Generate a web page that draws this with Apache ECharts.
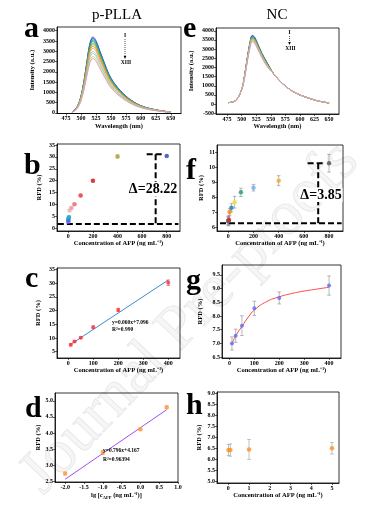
<!DOCTYPE html>
<html>
<head>
<meta charset="utf-8">
<script src="https://cdn.jsdelivr.net/npm/echarts@6/dist/echarts.min.js"></script>
<style>
html, body { margin: 0; padding: 0; background: #fff; }
#main { width: 375px; height: 507px; }
</style>
</head>
<body>
<div id="main"></div>
<script>
// ---- spectra (a: p-PLLA, e: NC), I .. XIII
const specNames = ['I', 'II', 'III', 'IV', 'V', 'VI', 'VII', 'VIII', 'IX', 'X', 'XI', 'XII', 'XIII'];
const waveA = [485, 490, 495, 500, 505, 510, 515, 520, 525, 530, 540, 550, 565, 580, 600, 625, 650];
const specA = [
  [40, 150, 370, 810, 1550, 2520, 3400, 3700, 3520, 3150, 2370, 1700, 1110, 700, 350, 150, 40],
  [40, 150, 370, 800, 1530, 2480, 3360, 3650, 3470, 3100, 2340, 1680, 1100, 690, 350, 150, 40],
  [40, 140, 360, 790, 1510, 2450, 3310, 3600, 3420, 3060, 2300, 1660, 1080, 680, 340, 140, 40],
  [40, 140, 350, 780, 1490, 2410, 3260, 3540, 3360, 3010, 2270, 1630, 1060, 670, 340, 140, 40],
  [30, 140, 350, 770, 1460, 2370, 3200, 3480, 3310, 2960, 2230, 1600, 1040, 660, 330, 140, 30],
  [30, 140, 340, 750, 1430, 2310, 3130, 3400, 3230, 2890, 2180, 1560, 1020, 650, 320, 140, 30],
  [30, 130, 330, 730, 1400, 2260, 3060, 3330, 3160, 2830, 2130, 1530, 1000, 630, 320, 130, 30],
  [30, 130, 330, 720, 1370, 2210, 2990, 3250, 3090, 2760, 2080, 1500, 980, 620, 310, 130, 30],
  [30, 130, 320, 690, 1320, 2140, 2900, 3150, 2990, 2680, 2020, 1450, 950, 600, 300, 130, 30],
  [30, 120, 300, 660, 1260, 2040, 2760, 3000, 2850, 2550, 1920, 1380, 900, 570, 290, 120, 30],
  [30, 120, 290, 640, 1220, 1970, 2670, 2900, 2760, 2470, 1860, 1330, 870, 550, 280, 120, 30],
  [30, 110, 280, 610, 1160, 1870, 2530, 2750, 2610, 2340, 1760, 1270, 830, 520, 260, 110, 30],
  [30, 110, 270, 580, 1110, 1800, 2440, 2650, 2520, 2250, 1700, 1220, 800, 500, 250, 110, 30]
];
const waveE = [477, 490, 500, 505, 510, 515, 518, 522, 527, 535, 545, 555, 570, 590, 610, 630, 650];
const specE = [
  [80, 200, 800, 1560, 2600, 3490, 3750, 3670, 3330, 2760, 2190, 1650, 1120, 650, 380, 180, 60],
  [80, 200, 800, 1550, 2580, 3460, 3720, 3640, 3310, 2740, 2170, 1650, 1120, 650, 380, 180, 60],
  [80, 200, 800, 1540, 2560, 3430, 3690, 3610, 3280, 2720, 2150, 1650, 1120, 650, 380, 180, 60],
  [80, 200, 800, 1530, 2540, 3410, 3660, 3580, 3250, 2690, 2140, 1650, 1120, 650, 380, 180, 60],
  [80, 200, 800, 1520, 2530, 3390, 3640, 3560, 3240, 2680, 2120, 1650, 1120, 650, 380, 180, 60],
  [80, 200, 800, 1500, 2510, 3360, 3610, 3530, 3210, 2660, 2110, 1650, 1120, 650, 380, 180, 60],
  [80, 200, 800, 1500, 2490, 3340, 3590, 3510, 3190, 2640, 2090, 1650, 1120, 650, 380, 180, 60],
  [80, 200, 800, 1490, 2480, 3320, 3570, 3490, 3170, 2630, 2080, 1650, 1120, 650, 380, 180, 60],
  [80, 200, 800, 1480, 2460, 3290, 3540, 3460, 3150, 2610, 2070, 1650, 1120, 650, 380, 180, 60],
  [80, 200, 800, 1460, 2440, 3270, 3510, 3430, 3120, 2580, 2050, 1650, 1120, 650, 380, 180, 60],
  [80, 200, 800, 1450, 2420, 3240, 3480, 3400, 3090, 2560, 2030, 1650, 1120, 650, 380, 180, 60],
  [80, 200, 800, 1440, 2400, 3210, 3450, 3370, 3070, 2540, 2010, 1650, 1120, 650, 380, 180, 60],
  [80, 200, 800, 1420, 2360, 3160, 3400, 3320, 3020, 2500, 1980, 1650, 1120, 650, 380, 180, 60]
];

// ---- RFD vs concentration (b: p-PLLA, f: NC)
const conc = [0.01, 0.1, 1, 5, 10, 25, 50, 100, 200, 400, 800];
const rfdB = [2.75, 3.4, 4.1, 4.8, 7.5, 8.5, 10.1, 13.8, 20.0, 30.2, 30.4];
const errB = [0.3, 0.3, 0.3, 0.3, 0.4, 0.4, 0.4, 0.5, 0.5, 0.6, 0.4];
const rfdF = [6.4, 6.42, 6.45, 6.5, 7.02, 7.31, 7.67, 8.33, 8.64, 9.11, 10.27];
const errF = [0.3, 0.25, 0.3, 0.25, 0.22, 0.27, 0.39, 0.28, 0.22, 0.33, 0.59];
const dashBLow = [[-85, 1.8], [895, 1.8]];
const dashBHigh = [[637, 31.1], [772, 31.1]];
const dashBVert = [[710, 31.1], [710, 1.8]];
const dashFLow = [[-66, 6.27], [900, 6.27]];
const dashFHigh = [[630, 10.27], [754, 10.27]];
const dashFVert = [[714, 10.27], [714, 6.27]];

// ---- c: linear range p-PLLA
const concC = [10, 25, 50, 100, 200, 400];
const rfdC = [7.5, 8.7, 10.1, 13.9, 20.2, 30.1];
const errC = [0.4, 0.3, 0.3, 0.5, 0.6, 1.0];
const fitCx = [10, 400];
const fitCy = [7.696, 31.096];

// ---- g: NC fit
const concG = [10, 25, 50, 100, 200, 400];
const rfdG = [7.0, 7.28, 7.65, 8.28, 8.66, 9.11];
const errG = [0.24, 0.24, 0.36, 0.26, 0.22, 0.35];
const fitGx = [10, 25, 50, 75, 100, 150, 200, 250, 300, 350, 400];
const fitGy = [6.98, 7.28, 7.62, 7.95, 8.22, 8.53, 8.70, 8.82, 8.91, 8.98, 9.05];

// ---- d: log range p-PLLA
const lgC = [-2, -1, 0, 0.7];
const rfdD = [2.75, 3.4, 4.12, 4.8];
const errD = [0.04, 0.06, 0.04, 0.04];
const fitDx = [-2, 0.7];
const fitDy = [2.575, 4.724];

// ---- h: NC low range
const concH = [0.01, 0.1, 1, 5];
const rfdH = [6.43, 6.43, 6.46, 6.51];
const errH = [0.25, 0.28, 0.45, 0.26];

// ---- tick labels
const ticksWave = [475, 500, 525, 550, 575, 600, 625, 650];
const ticksIntA = [0, 500, 1000, 1500, 2000, 2500, 3000, 3500, 4000];
const ticksIntE = [-500, 0, 500, 1000, 1500, 2000, 2500, 3000, 3500, 4000];
const ticksConc800 = [0, 200, 400, 600, 800];
const ticksConc400 = [0, 100, 200, 300, 400];
const ticksRfdB = [0, 5, 10, 15, 20, 25, 30, 35];
const ticksRfdF = [6, 7, 8, 9, 10, 11];
const ticksRfdC = [5, 10, 15, 20, 25, 30, 35];
const ticksRfdG = [6.5, 7.0, 7.5, 8.0, 8.5, 9.0, 9.5];
const ticksLg = [-2.0, -1.5, -1.0, -0.5, 0.0, 0.5, 1.0];
const ticksRfdD = [2.5, 3.0, 3.5, 4.0, 4.5, 5.0];
const ticksConcH = [0, 1, 2, 3, 4, 5];
const ticksRfdH = [5.0, 5.5, 6.0, 6.5, 7.0, 7.5, 8.0, 8.5, 9.0];

const FONT = '"Liberation Serif", "Times New Roman", serif';
const specColors = ['#3c3c9c', '#1f4fb4', '#1f8fd0', '#17a8b8', '#2a9d5c', '#7ab030', '#c8a82c',
  '#f08a1c', '#f5a05a', '#8fc0ec', '#9ad08a', '#c0d070', '#e88ac8'];
const colorsB = ['#7b68ee', '#4169e1', '#1e90ff', '#20b2aa', '#f7b6c2', '#f4a0a0', '#f07070',
  '#f03a3a', '#e01818', '#b5a030', '#3050c0'];
const colorsF = ['#20b070', '#404040', '#9467bd', '#d62728', '#ff7f0e', '#1f77b4', '#f0e030',
  '#20a070', '#6ab0f0', '#f5a623', '#505060'];

const plain = v => String(v);
const fixed1 = v => v.toFixed(1);
const nameStyle = { fontFamily: FONT, fontSize: 6.5, fontWeight: 'bold', color: '#000' };

function xAx(gi, min, max, ticks, name, gap, fmt) {
  return {
    type: 'value', gridIndex: gi, min: min, max: max,
    name: name, nameLocation: 'middle', nameGap: gap,
    nameTextStyle: Object.assign({
      rich: {
        t: nameStyle,
        i: Object.assign({}, nameStyle, { fontStyle: 'italic' }),
        s: Object.assign({}, nameStyle, { fontSize: 4.5, padding: [4, 0, 0, 0] })
      }
    }, nameStyle),
    axisLine: { onZero: false, lineStyle: { color: '#000', width: 0.8 } },
    axisTick: { customValues: ticks, length: 2, lineStyle: { color: '#000', width: 0.6 } },
    axisLabel: { customValues: ticks, margin: 2, formatter: fmt || plain, fontFamily: FONT, fontSize: 6, fontWeight: 'bold', color: '#000' },
    splitLine: { show: false }
  };
}
function yAx(gi, min, max, ticks, name, gap, fmt) {
  return {
    type: 'value', gridIndex: gi, min: min, max: max,
    name: name, nameLocation: 'middle', nameGap: gap, nameTextStyle: nameStyle,
    axisLine: { onZero: false, lineStyle: { color: '#000', width: 0.8 } },
    axisTick: { customValues: ticks, length: 2, lineStyle: { color: '#000', width: 0.6 } },
    axisLabel: { customValues: ticks, margin: 2, formatter: fmt || plain, fontFamily: FONT, fontSize: 6, fontWeight: 'bold', color: '#000' },
    splitLine: { show: false }
  };
}

function errorBars(gi, xs, ys, es, color) {
  return {
    type: 'custom', xAxisIndex: gi, yAxisIndex: gi, z: 1, silent: true,
    encode: { x: 0, y: [1, 2] },
    data: xs.map((x, i) => [x, ys[i] - es[i], ys[i] + es[i]]),
    renderItem: (params, api) => {
      const lo = api.coord([api.value(0), api.value(1)]);
      const hi = api.coord([api.value(0), api.value(2)]);
      const st = { stroke: color, lineWidth: 0.6 };
      return {
        type: 'group', children: [
          { type: 'line', shape: { x1: lo[0], y1: lo[1], x2: hi[0], y2: hi[1] }, style: st },
          { type: 'line', shape: { x1: lo[0] - 1.8, y1: lo[1], x2: lo[0] + 1.8, y2: lo[1] }, style: st },
          { type: 'line', shape: { x1: hi[0] - 1.8, y1: hi[1], x2: hi[0] + 1.8, y2: hi[1] }, style: st }
        ]
      };
    }
  };
}
function dots(gi, xs, ys, colors, size) {
  return {
    type: 'scatter', xAxisIndex: gi, yAxisIndex: gi, symbolSize: size, z: 3,
    data: xs.map((x, i) => ({ value: [x, ys[i]], itemStyle: { color: Array.isArray(colors) ? colors[i] : colors } }))
  };
}
function line(gi, pts, color, width, dash, smooth) {
  return {
    type: 'line', xAxisIndex: gi, yAxisIndex: gi, data: pts, showSymbol: false, symbol: 'none',
    smooth: smooth || false, lineStyle: { color: color, width: width, type: dash || 'solid' }, z: 2
  };
}
const zip = (xs, ys) => xs.map((x, i) => [x, ys[i]]);

const grids = [
  { left: 57, top: 27, width: 124, height: 86.5 },   // 0 a
  { left: 216, top: 28, width: 123, height: 86 },    // 1 e
  { left: 57, top: 144, width: 123, height: 87 },    // 2 b
  { left: 217, top: 145, width: 126, height: 86 },   // 3 f
  { left: 57, top: 268, width: 123, height: 90 },    // 4 c
  { left: 222, top: 265, width: 119, height: 93 },   // 5 g
  { left: 55, top: 393, width: 123, height: 89 },    // 6 d
  { left: 217, top: 392, width: 122, height: 91 }    // 7 h
].map(g => Object.assign({ show: true, borderColor: '#000', borderWidth: 0.8, outerBoundsMode: 'none' }, g));

const concName = 'Concentration of AFP (ng mL\u207B\u00B9)';
const xAxes = [
  xAx(0, 460, 667, ticksWave, 'Wavelength (nm)', 8),
  xAx(1, 456, 667, ticksWave, 'Wavelength (nm)', 8),
  xAx(2, -92, 908, ticksConc800, concName, 9),
  xAx(3, -90, 911, ticksConc800, concName, 9),
  xAx(4, -45, 447, ticksConc400, concName, 9),
  xAx(5, -30, 448, ticksConc400, concName, 9),
  xAx(6, -2.27, 1.0, ticksLg, '{t|lg [}{i|c}{s|AFP}{t| (ng mL\u207B\u00B9)]}', 9, fixed1),
  xAx(7, -0.545, 5.34, ticksConcH, concName, 8)
];
const yAxes = [
  yAx(0, -30, 4180, ticksIntA, 'Intensity (a.u.)', 21),
  yAx(1, -540, 4150, ticksIntE, 'Intensity (a.u.)', 21),
  yAx(2, -1.1, 35.4, ticksRfdB, 'RFD (%)', 14),
  yAx(3, 5.75, 11.49, ticksRfdF, 'RFD (%)', 10),
  yAx(4, 2.71, 35.47, ticksRfdC, 'RFD (%)', 15),
  yAx(5, 6.47, 9.86, ticksRfdG, 'RFD (%)', 18, fixed1),
  yAx(6, 2.49, 5.24, ticksRfdD, 'RFD (%)', 9, fixed1),
  yAx(7, 4.94, 9.06, ticksRfdH, 'RFD (%)', 14, fixed1)
];

const series = [];
specA.forEach((s, i) => series.push(Object.assign(line(0, zip(waveA, s), specColors[i], 0.8, null, 0.35), { name: specNames[i] })));
specE.forEach((s, i) => series.push(Object.assign(line(1, zip(waveE, s), specColors[i], 0.8, null, 0.35), { name: specNames[i] })));

// b
series.push(errorBars(2, conc, rfdB, errB, '#888'));
series.push(dots(2, conc, rfdB, colorsB, 4.5));
[dashBLow, dashBHigh, dashBVert].forEach(d => series.push(line(2, d, '#000', 2, [6, 3])));
// f
series.push(errorBars(3, conc, rfdF, errF, '#888'));
series.push(dots(3, conc, rfdF, colorsF, 4.5));
[dashFLow, dashFHigh, dashFVert].forEach(d => series.push(line(3, d, '#000', 2, [6, 3])));
// c
series.push(line(4, zip(fitCx, fitCy), '#3a8ed0', 1));
series.push(errorBars(4, concC, rfdC, errC, '#f04040'));
series.push(dots(4, concC, rfdC, '#ff3030', 4));
// g
series.push(line(5, zip(fitGx, fitGy), '#ff4848', 1, null, true));
series.push(errorBars(5, concG, rfdG, errG, '#888'));
series.push(dots(5, concG, rfdG, '#5a6cff', 4));
// d
series.push(line(6, zip(fitDx, fitDy), '#a050f0', 1));
series.push(errorBars(6, lgC, rfdD, errD, '#f09040'));
series.push(dots(6, lgC, rfdD, '#ff9a3c', 4.5));
// h
series.push(errorBars(7, concH, rfdH, errH, '#999'));
series.push(dots(7, concH, rfdH, '#ff9020', 4.5));

function txt(x, y, text, size, opts) {
  return {
    type: 'text', x: x, y: y, z: 10,
    style: Object.assign({ text: text, fontFamily: FONT, fontSize: size, fontWeight: 'bold', fill: '#000',
      align: 'left', verticalAlign: 'middle' }, opts || {})
  };
}
function rangeArrow(x, yTop, yBot, yLabel) {
  return [
    txt(x, yTop, 'I', 5.5, { align: 'center' }),
    { type: 'line', z: 10, shape: { x1: x, y1: yTop + 3, x2: x, y2: yBot }, style: { stroke: '#000', lineWidth: 0.7, lineDash: [1, 1] } },
    { type: 'polygon', z: 10, shape: { points: [[x - 1.3, yBot - 1], [x + 1.3, yBot - 1], [x, yBot + 2]] }, style: { fill: '#000' } },
    txt(x + 1, yLabel, 'XIII', 5.5, { align: 'center' })
  ];
}

const graphic = [
  {
    type: 'text', x: 190, y: 318, rotation: 0.81, z: -5, silent: true,
    style: { text: 'Journal Pre-proofs', fontFamily: FONT, fontSize: 62, align: 'center', verticalAlign: 'middle',
      fill: 'rgba(0,0,0,0.035)', stroke: 'rgba(0,0,0,0.08)', lineWidth: 1 }
  },
  txt(117, 15, 'p-PLLA', 15, { align: 'center', fontWeight: 'normal' }),
  txt(277, 15, 'NC', 15, { align: 'center', fontWeight: 'normal' }),
  txt(24, 29, 'a', 30),
  txt(183, 29, 'e', 30),
  txt(24, 166, 'b', 30),
  txt(186, 171, 'f', 30),
  txt(25, 279, 'c', 30),
  txt(186, 281, 'g', 30),
  txt(25, 409, 'd', 30),
  txt(186, 406, 'h', 30),
  txt(153, 189, '\u0394=28.22', 14, { align: 'center', backgroundColor: '#fff', padding: [0, 1] }),
  txt(321, 195, '\u0394=3.85', 14, { align: 'center', backgroundColor: '#fff', padding: [0, 1] }),
  txt(112, 323, 'y=0.060x+7.096', 5.5),
  txt(112, 330, 'R\u00B2=0.990', 5.5),
  txt(103, 451, 'y=0.796x+4.167', 5.5),
  txt(103, 460, 'R\u00B2=0.96394', 5.5)
].concat(rangeArrow(125, 36, 57, 63), rangeArrow(289.5, 33, 43, 49));

const chart = echarts.init(document.getElementById('main'), null, { renderer: 'canvas' });
chart.setOption({
  animation: false,
  backgroundColor: '#fff',
  grid: grids,
  xAxis: xAxes,
  yAxis: yAxes,
  series: series,
  graphic: graphic
});
</script>
</body>
</html>
